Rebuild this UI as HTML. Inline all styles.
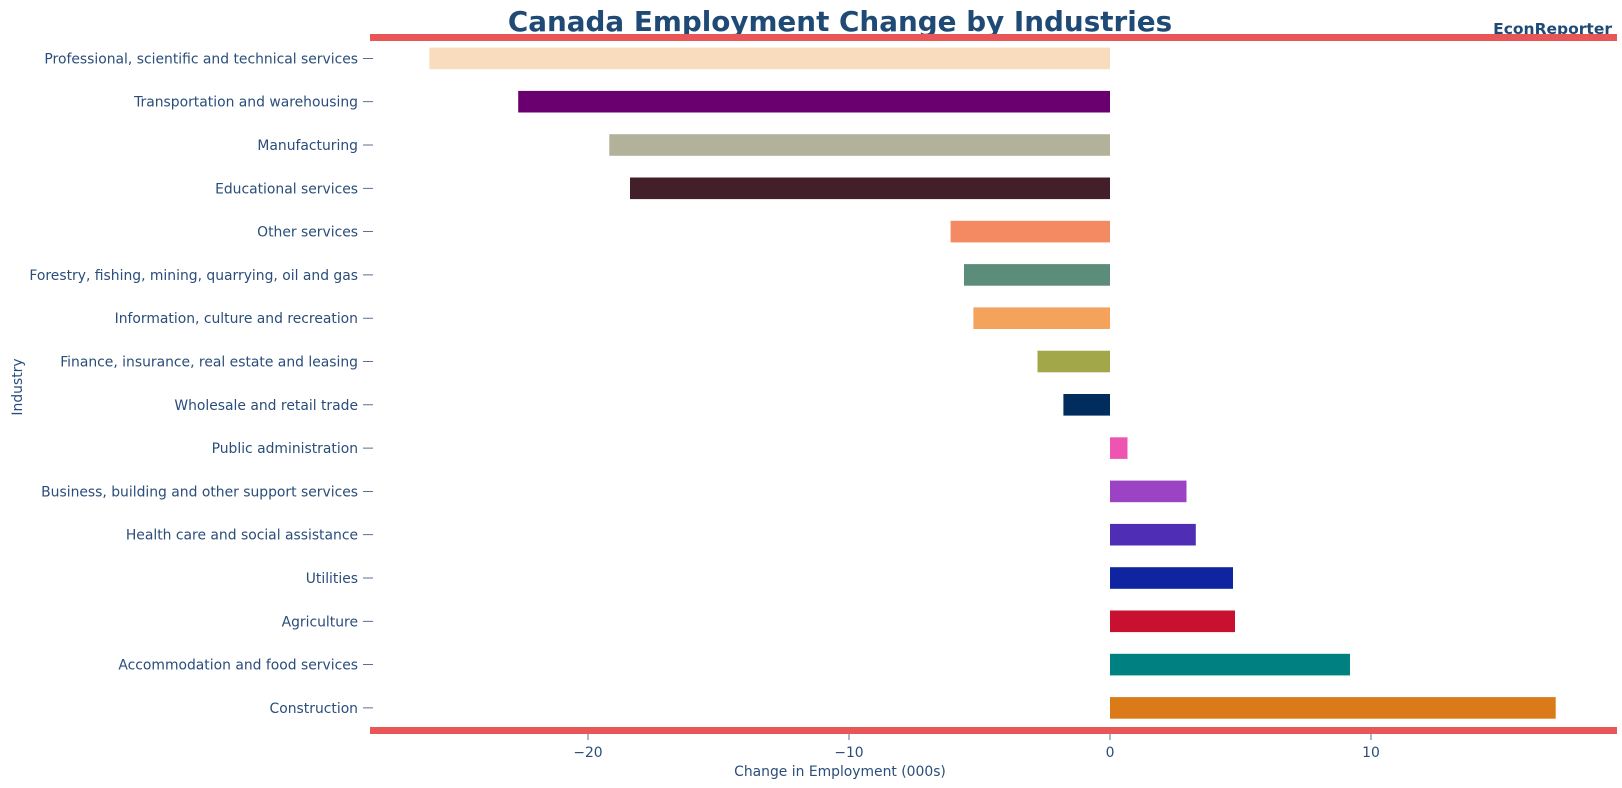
<!DOCTYPE html>
<html><head><meta charset="utf-8"><style>
html,body{margin:0;padding:0;background:#fff;}
svg{display:block;font-family:"DejaVu Sans","Liberation Sans",sans-serif;}
</style></head><body>
<svg width="1622" height="788" viewBox="0 0 1622 788" xmlns="http://www.w3.org/2000/svg">
<rect width="1622" height="788" fill="#fff"/>
<text x="840" y="31" text-anchor="middle" font-size="27.8" font-weight="bold" fill="#1f4a75">Canada Employment Change by Industries</text>
<text x="1612" y="34" text-anchor="end" font-size="15.5" font-weight="bold" fill="#1f4a75">EconReporter</text>
<rect x="370" y="34" width="1247" height="7" fill="#e85657"/>
<rect x="370" y="727" width="1247" height="7" fill="#e85657"/>
<g>
<rect x="429.3" y="47.6" width="680.7" height="21.6" fill="#f9dcbe"/>
<rect x="518.2" y="90.9" width="591.8" height="21.6" fill="#6a006f"/>
<rect x="609.3" y="134.2" width="500.7" height="21.6" fill="#b2b29a"/>
<rect x="630" y="177.5" width="480" height="21.6" fill="#431f2a"/>
<rect x="950.6" y="220.8" width="159.4" height="21.6" fill="#f48a62"/>
<rect x="964" y="264.1" width="146" height="21.6" fill="#5b8d7a"/>
<rect x="973.4" y="307.4" width="136.6" height="21.6" fill="#f4a25c"/>
<rect x="1037.5" y="350.7" width="72.5" height="21.6" fill="#a2a84a"/>
<rect x="1063.4" y="394" width="46.6" height="21.6" fill="#002d5e"/>
<rect x="1110" y="437.3" width="17.5" height="21.6" fill="#ee55b0"/>
<rect x="1110" y="480.6" width="76.5" height="21.6" fill="#9b43c2"/>
<rect x="1110" y="523.9" width="85.8" height="21.6" fill="#4f2db5"/>
<rect x="1110" y="567.2" width="123" height="21.6" fill="#0f24a0"/>
<rect x="1110" y="610.5" width="125" height="21.6" fill="#c81130"/>
<rect x="1110" y="653.8" width="240" height="21.6" fill="#008080"/>
<rect x="1110" y="697.1" width="445.7" height="21.6" fill="#db7a18"/>
</g>
<g fill="#2a4d7a" font-size="13.9" text-anchor="end">
<text x="358" y="63.4">Professional, scientific and technical services</text>
<text x="358" y="106.7">Transportation and warehousing</text>
<text x="358" y="150">Manufacturing</text>
<text x="358" y="193.3">Educational services</text>
<text x="358" y="236.6">Other services</text>
<text x="358" y="279.9">Forestry, fishing, mining, quarrying, oil and gas</text>
<text x="358" y="323.2">Information, culture and recreation</text>
<text x="358" y="366.5">Finance, insurance, real estate and leasing</text>
<text x="358" y="409.8">Wholesale and retail trade</text>
<text x="358" y="453.1">Public administration</text>
<text x="358" y="496.4">Business, building and other support services</text>
<text x="358" y="539.7">Health care and social assistance</text>
<text x="358" y="583">Utilities</text>
<text x="358" y="626.3">Agriculture</text>
<text x="358" y="669.6">Accommodation and food services </text>
<text x="358" y="712.9">Construction</text>
</g>
<g stroke="#2a4d7a" stroke-width="0.8">
<line x1="363" x2="373" y1="58.4" y2="58.4"/><line x1="363" x2="373" y1="101.7" y2="101.7"/>
<line x1="363" x2="373" y1="145" y2="145"/><line x1="363" x2="373" y1="188.3" y2="188.3"/>
<line x1="363" x2="373" y1="231.6" y2="231.6"/><line x1="363" x2="373" y1="274.9" y2="274.9"/>
<line x1="363" x2="373" y1="318.2" y2="318.2"/><line x1="363" x2="373" y1="361.5" y2="361.5"/>
<line x1="363" x2="373" y1="404.8" y2="404.8"/><line x1="363" x2="373" y1="448.1" y2="448.1"/>
<line x1="363" x2="373" y1="491.4" y2="491.4"/><line x1="363" x2="373" y1="534.7" y2="534.7"/>
<line x1="363" x2="373" y1="578" y2="578"/><line x1="363" x2="373" y1="621.3" y2="621.3"/>
<line x1="363" x2="373" y1="664.6" y2="664.6"/><line x1="363" x2="373" y1="707.9" y2="707.9"/>
<line x1="588" x2="588" y1="734" y2="740"/><line x1="849" x2="849" y1="734" y2="740"/>
<line x1="1110" x2="1110" y1="734" y2="740"/><line x1="1371" x2="1371" y1="734" y2="740"/>
</g>
<g fill="#2a4d7a" font-size="13.9" text-anchor="middle">
<text x="588" y="757">−20</text>
<text x="849" y="757">−10</text>
<text x="1110" y="757">0</text>
<text x="1371" y="757">10</text>
<text x="840" y="776">Change in Employment (000s)</text>
<text x="0" y="0" transform="translate(22,387) rotate(-90)">Industry</text>
</g>
</svg>
</body></html>
